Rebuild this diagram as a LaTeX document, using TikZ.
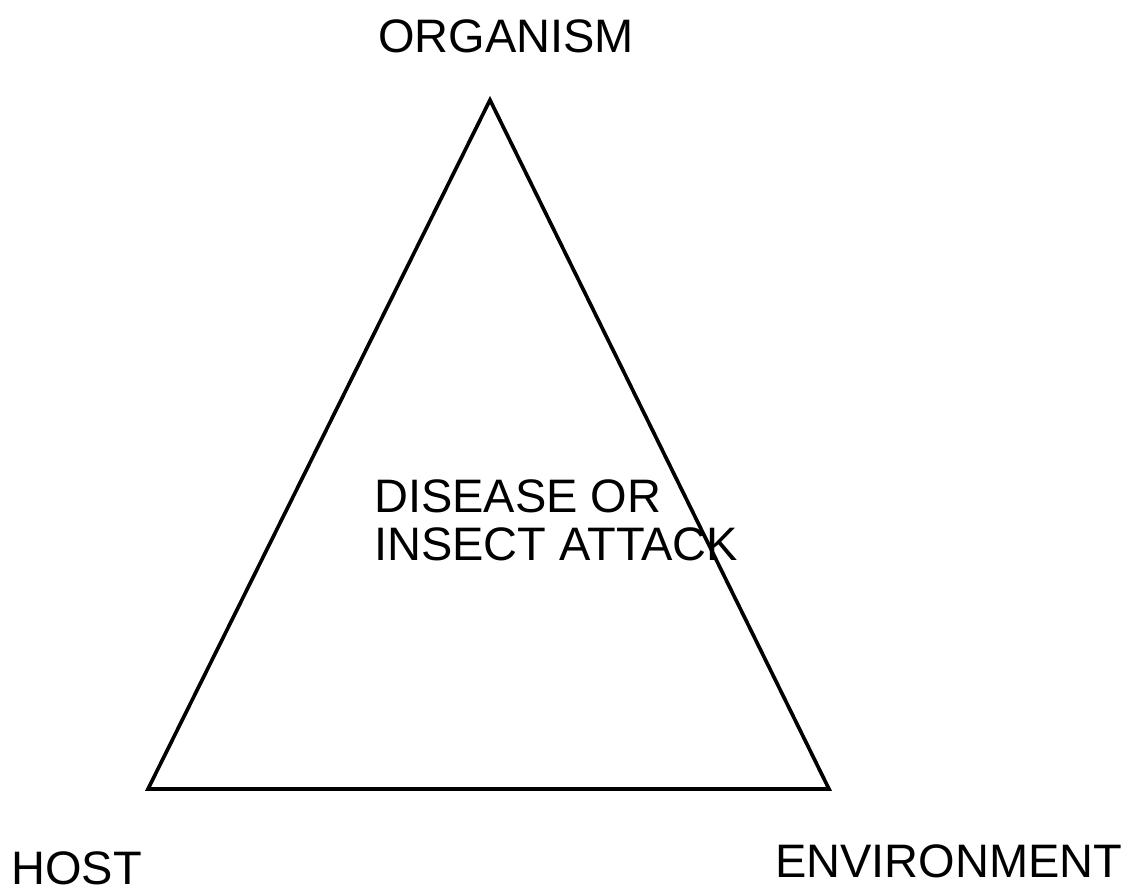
\documentclass[tikz,border=0pt]{standalone}
\usepackage{fontspec}
\setmainfont{Liberation Sans}
\usetikzlibrary{positioning}

\tikzset{
  label text/.style={inner sep=0pt, anchor=base west, font=\fontsize{33.4}{34.1}\selectfont},
  side line/.style={draw=black, line width=2.6pt, line join=miter}
}

\begin{document}
\begin{tikzpicture}[x=0.025cm, y=-0.025cm]
  \useasboundingbox (0,0) rectangle (1131,890);
  % corners of the triangle
  \coordinate (top) at (490,100);
  \coordinate (left) at (148,789);
  \coordinate (right) at (829,789);
  \draw[side line] (top) -- (left) -- (right) -- cycle;
  % labels
  \node[label text] (organism) at (378,52) {ORGANISM};
  \node[label text] (host) at (11,884) {HOST};
  \node[label text] (environment) at (775,877) {ENVIRONMENT};
  \node[label text, align=left] (disease) at (374,560) {DISEASE OR\\INSECT ATTACK};
\end{tikzpicture}
\end{document}
